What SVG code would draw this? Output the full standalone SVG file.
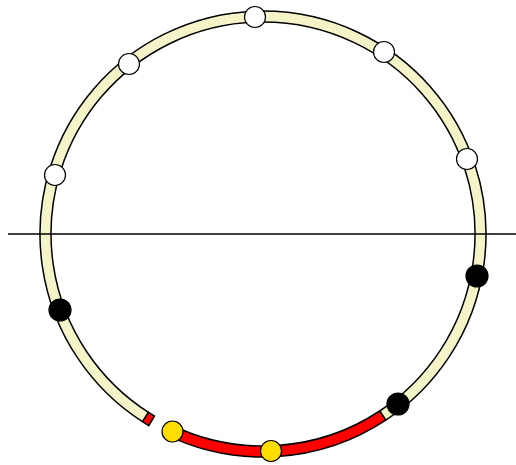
<svg xmlns="http://www.w3.org/2000/svg" width="516" height="465" viewBox="0 0 516 465">
<style>
.band{stroke:#000;stroke-width:1.5;stroke-linejoin:miter}
.cream{fill:#f4f4c8}
.red{fill:#ff0000}
.dot{stroke:#000;stroke-width:1.2}
.w{fill:#fff}
.b{fill:#000}
.y{fill:#ffdd00}
</style>
<rect width="516" height="465" fill="#fff"/>
<g id="ring">
<path class="band cream" d="M142.5,421.7 A223,223 0 1 1 385.8,420.2 L379.7,411.0 A212,212 0 1 0 148.5,412.4 Z"/>
<path class="band red" d="M385.8,420.2 A223,223 0 0 1 165.2,434.4 L170.1,424.5 A212,212 0 0 0 379.7,411.0 Z"/>
<path class="band red" d="M148.8,425.6 A223,223 0 0 1 142.5,421.7 L148.5,412.4 A212,212 0 0 0 154.5,416.1 Z"/>
</g>
<g id="connectors">
<line x1="8" y1="234" x2="516" y2="234" stroke="#000" stroke-width="1.3"/>
</g>
<g id="n1"><circle class="dot w" cx="255" cy="17" r="10.5"/></g>
<g id="n2"><circle class="dot w" cx="129" cy="64" r="10.5"/></g>
<g id="n3"><circle class="dot w" cx="384" cy="52" r="10.5"/></g>
<g id="n4"><circle class="dot w" cx="467" cy="159" r="10.5"/></g>
<g id="n5"><circle class="dot w" cx="55" cy="175" r="10.5"/></g>
<g id="n6"><circle class="dot b" cx="477" cy="276" r="11"/></g>
<g id="n7"><circle class="dot b" cx="60" cy="310" r="11"/></g>
<g id="n8"><circle class="dot b" cx="398" cy="404" r="11"/></g>
<g id="n9"><circle class="dot y" cx="172.5" cy="431.5" r="10.5"/></g>
<g id="n10"><circle class="dot y" cx="271" cy="451" r="10.5"/></g>
</svg>
